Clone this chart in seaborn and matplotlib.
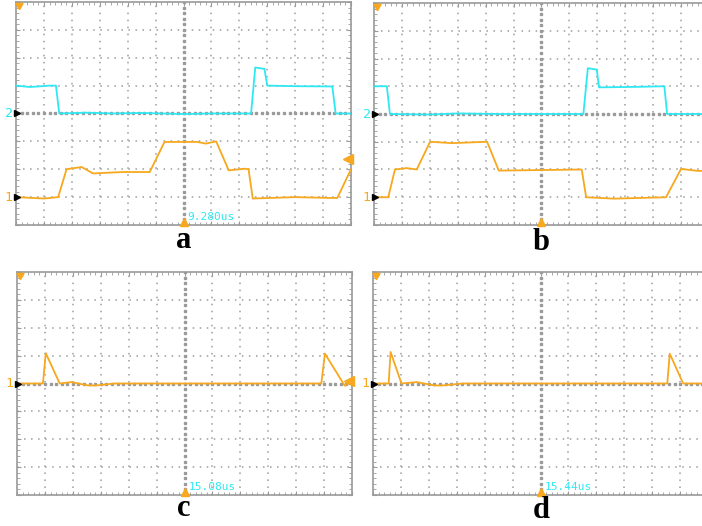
import numpy as np
import pandas as pd
import matplotlib
matplotlib.use("Agg")
import matplotlib.pyplot as plt
import seaborn as sns

# ---- data (screen divisions: x 0..12, y 0..8) ----
A_CH2_X = [0, 0.5, 1.2, 1.43, 1.55, 2.5, 3.5, 4.5, 6.0, 7.0, 8.42, 8.57, 8.9, 9.0, 10.0, 11.33, 11.45, 12]
A_CH2_Y = [5.0, 4.95, 5.0, 5.0, 4.0, 4.03, 4.0, 4.02, 3.98, 4.0, 4.0, 5.65, 5.6, 5.0, 4.98, 4.97, 4.0, 4.0]
A_CH1_X = [0, 1.0, 1.51, 1.81, 2.35, 2.76, 3.8, 4.79, 5.32, 6.5, 6.8, 7.17, 7.62, 8.2, 8.33, 8.48, 10.0, 11.3, 11.51, 12]
A_CH1_Y = [1.0, 0.95, 1.0, 2.0, 2.08, 1.85, 1.9, 1.9, 2.98, 2.98, 2.92, 3.0, 1.96, 2.02, 2.0, 0.95, 1.0, 0.97, 0.97, 2.0]

B_CH2_X = [0, 0.46, 0.57, 2.0, 3.0, 4.5, 6.0, 7.5, 7.66, 7.98, 8.06, 9.5, 10.4, 10.5, 12]
B_CH2_Y = [5.0, 5.0, 4.0, 3.98, 4.02, 4.0, 4.0, 4.0, 5.65, 5.6, 4.96, 4.98, 5.0, 4.0, 4.0]
B_CH1_X = [0, 0.51, 0.75, 1.17, 1.53, 2.01, 2.8, 4.05, 4.47, 6.0, 7.44, 7.6, 8.6, 10.46, 11.0, 11.6, 12]
B_CH1_Y = [1.0, 1.0, 2.0, 2.05, 2.0, 3.0, 2.95, 3.0, 1.96, 1.98, 2.0, 1.0, 0.95, 1.0, 2.02, 1.95, 1.95]

C_CH1_X = [0, 0.93, 1.03, 1.53, 1.95, 2.55, 2.84, 3.5, 10.9, 11.03, 11.74, 11.96]
C_CH1_Y = [4.0, 4.0, 5.09, 4.0, 4.05, 3.93, 3.93, 4.0, 4.0, 5.07, 3.92, 4.08]

D_CH1_X = [0, 0.56, 0.63, 1.02, 1.56, 2.2, 2.5, 3.2, 10.54, 10.63, 11.11, 11.9, 12]
D_CH1_Y = [4.0, 4.0, 5.13, 4.0, 4.05, 3.93, 3.93, 4.0, 4.0, 5.07, 4.0, 4.0, 4.08]

PANEL_LABELS = ["a", "b", "c", "d"]
TIME_TEXT = ["9.280us", "", "15.08us", "15.44us"]

CYAN = "#2ee8f2"
ORANGE = "#f7a81e"
GRID = "#9c9c9c"
BORDER = "#9a9a9a"

sns.set_style("white")
W, H = 702, 526
fig = plt.figure(figsize=(W / 100, H / 100), dpi=100)


def px_axes(left, top, right, bottom):
    return fig.add_axes([left / W, 1 - bottom / H, (right - left) / W, (bottom - top) / H])


def scope(ax):
    ax.set_xlim(0, 12)
    ax.set_ylim(0, 8)
    for v in range(1, 12):
        if v != 6:
            ax.axvline(v, color=GRID, lw=1.1, ls=(0, (1, 3.6)), zorder=1)
    for v in range(1, 8):
        if v != 4:
            ax.axhline(v, color=GRID, lw=1.1, ls=(0, (1, 3.6)), zorder=1)
    # centre crosshair with denser dots
    ys = np.arange(0, 8.01, 0.2)
    xs = np.arange(0, 12.01, 0.2)
    ax.plot(np.full_like(ys, 6), ys, ls="none", marker="s", ms=1.9, color="#9a9a9a", zorder=2)
    ax.plot(xs, np.full_like(xs, 4), ls="none", marker="s", ms=1.9, color="#9a9a9a", zorder=2)
    for s in ax.spines.values():
        s.set_color(BORDER)
        s.set_linewidth(1.2)
    ax.set_xticks(range(0, 13))
    ax.set_yticks(range(0, 9))
    ax.set_xticks(np.arange(0, 12.01, 0.2), minor=True)
    ax.set_yticks(np.arange(0, 8.01, 0.2), minor=True)
    ax.tick_params(which="both", direction="in", top=True, right=True, bottom=True, left=True,
                   color=BORDER, labelbottom=False, labelleft=False)
    ax.tick_params(which="major", length=3, width=0.8)
    ax.tick_params(which="minor", length=2, width=0.6)
    ax.set_xlabel("")
    ax.set_ylabel("")
    # trigger markers
    ax.plot([0.12], [7.88], marker=(3, 0, 180), ms=6, color=ORANGE, clip_on=False, zorder=6)
    ax.plot([6], [0.12], marker="^", ms=6, color=ORANGE, clip_on=False, zorder=6)


def trace(ax, xs, ys, color):
    df = pd.DataFrame({"x": xs, "y": ys})
    sns.lineplot(data=df, x="x", y="y", ax=ax, color=color, lw=1.3, sort=False,
                 estimator=None, zorder=5)


def chan_marker(ax, y, label, color):
    ax.plot([0.05], [y], marker=">", ms=4, color="black", clip_on=False, zorder=7)
    ax.text(-0.12, y, label, color=color, ha="right", va="center", fontsize=9.5,
            family="DejaVu Sans Mono", clip_on=False)


axA = px_axes(16, 2, 351, 225)
axB = px_axes(374, 3, 709, 225)
axC = px_axes(17, 272, 352, 495)
axD = px_axes(373, 272, 708, 495)
axes = [axA, axB, axC, axD]

for ax in axes:
    scope(ax)

trace(axA, A_CH2_X, A_CH2_Y, CYAN)
trace(axA, A_CH1_X, A_CH1_Y, ORANGE)
trace(axB, B_CH2_X, B_CH2_Y, CYAN)
trace(axB, B_CH1_X, B_CH1_Y, ORANGE)
trace(axC, C_CH1_X, C_CH1_Y, ORANGE)
trace(axD, D_CH1_X, D_CH1_Y, ORANGE)

chan_marker(axA, 4, "2", CYAN)
chan_marker(axA, 1, "1", ORANGE)
chan_marker(axB, 4, "2", CYAN)
chan_marker(axB, 1, "1", ORANGE)
chan_marker(axC, 4, "1", ORANGE)
chan_marker(axD, 4, "1", ORANGE)

# trigger level markers on right edge
axA.plot([11.9], [2.38], marker="<", ms=7, color=ORANGE, clip_on=False, zorder=6)
axC.plot([11.9], [4.1], marker="<", ms=7, color=ORANGE, clip_on=False, zorder=6)

for ax, t in zip(axes, TIME_TEXT):
    if t:
        ax.text(6.15, 0.3, t, color=CYAN, fontsize=8, family="DejaVu Sans Mono",
                ha="left", va="center", zorder=8)

label_pos = [(184, 241), (541, 243), (184, 508), (541, 511)]
for (x, y), lab in zip(label_pos, PANEL_LABELS):
    fig.text(x / W, 1 - y / H, lab, fontsize=22, fontweight="bold", color="black",
             family="Liberation Serif", ha="center", va="center")

fig.savefig("out.png", dpi=100)
